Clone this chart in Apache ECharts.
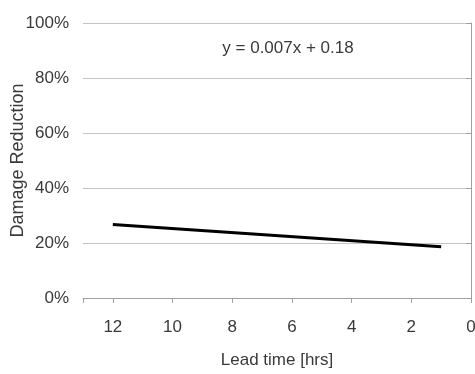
<!DOCTYPE html>
<html><head><meta charset="utf-8">
<script src="https://cdn.jsdelivr.net/npm/echarts@6/dist/echarts.min.js"></script>
<style>html,body{margin:0;padding:0;background:#fff}#c{width:475px;height:374px}</style>
</head><body><div id="c"></div>
<script>
const leadTimes = [12, 1];
const damageReduction = [0.267, 0.186];
const yTicks = [0, 0.2, 0.4, 0.6, 0.8, 1.0];
const xTicks = [0, 2, 4, 6, 8, 10, 12];
const equationText = 'y = 0.007x + 0.18';
const xAxisName = 'Lead time [hrs]';
const yAxisName = 'Damage Reduction';

const fam = 'Liberation Sans';
const fs = 17;
const fsName = 17;
const fsY = 18;

const chart = echarts.init(document.getElementById('c'));
const txt = '#3a3a3a';
chart.setOption({
  animation: false,
  grid: {left: 83, right: 4, top: 23, bottom: 76, containLabel: false, outerBoundsMode: 'none'},
  xAxis: {
    type: 'value', inverse: true, min: 0, max: 13, interval: 2,
    name: xAxisName, nameLocation: 'middle', nameGap: 54, nameMoveOverlap: false,
    nameTextStyle: {fontFamily: fam, fontSize: fsName, color: txt},
    axisLine: {show: true, lineStyle: {color: '#a0a0a0', width: 1}},
    axisTick: {show: true, length: 5, inside: false, lineStyle: {color: '#a0a0a0'}},
    axisLabel: {margin: 21, fontFamily: fam, fontSize: fs, color: txt,
      formatter: v => xTicks.includes(v) ? String(v) : ''},
    splitLine: {show: false}
  },
  yAxis: {
    type: 'value', min: 0, max: 1, interval: 0.2,
    name: yAxisName, nameLocation: 'middle', nameGap: 56, nameMoveOverlap: false,
    nameTextStyle: {fontFamily: fam, fontSize: fsY, color: txt},
    axisLine: {show: true, lineStyle: {color: '#a0a0a0', width: 1}},
    axisTick: {show: true, length: 5, lineStyle: {color: '#a0a0a0'}},
    axisLabel: {margin: 14, fontFamily: fam, fontSize: fs, color: txt,
      formatter: v => yTicks.some(t => Math.abs(t - v) < 1e-9) ? Math.round(v * 100) + '%' : ''},
    splitLine: {show: true, lineStyle: {color: '#c4c4c4', width: 1}}
  },
  series: [{
    type: 'line',
    data: leadTimes.map((x, i) => [x, damageReduction[i]]),
    symbol: 'none',
    lineStyle: {color: '#000', width: 3},
    z: 5
  }],
  graphic: [{
    type: 'text', x: 288, y: 48,
    style: {text: equationText, fontFamily: fam, fontSize: fs, fill: txt, align: 'center', verticalAlign: 'middle'}
  }]
});
</script></body></html>
